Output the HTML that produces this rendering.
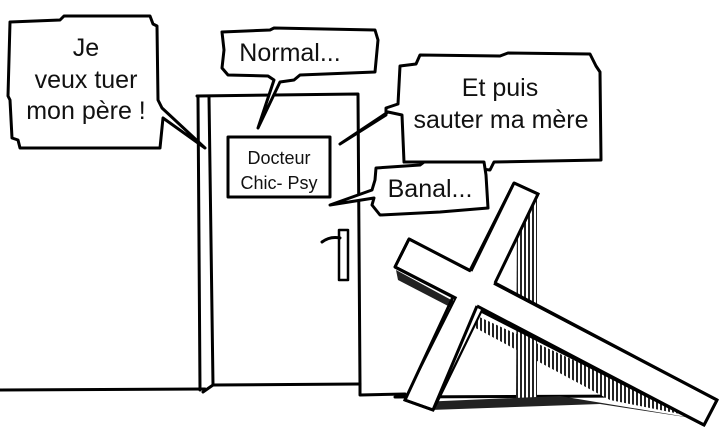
<!DOCTYPE html>
<html><head><meta charset="utf-8"><style>
html,body{margin:0;padding:0;background:#fff}
svg{display:block}
text{font-family:"Comic Sans MS","Liberation Sans",sans-serif;fill:#111}
</style></head><body>
<svg width="723" height="446" viewBox="0 0 723 446" xmlns="http://www.w3.org/2000/svg">
<defs>
<pattern id="h" width="4" height="6" patternUnits="userSpaceOnUse">
<rect width="4" height="6" fill="#fff"/><rect width="2" height="6" fill="#222"/>
</pattern>
</defs>
<g fill="none" stroke="#000" stroke-width="3" stroke-linejoin="round" stroke-linecap="round">
<path d="M0 390 L205 389"/>
<path d="M203 392 L213 385 L360 384"/>
<path d="M360 385 L360 395 L405 394"/>
<path d="M395 397 L640 396"/>
<path d="M198 97 L200 390"/>
<path d="M209 97 L213 385"/>
<path d="M197 96 L358 94 L360 386"/>
<rect x="228" y="137" width="102" height="60"/>
<rect x="339" y="230" width="9" height="50" stroke-width="2.5"/>
<path d="M322 242 Q330 236 340 238" stroke-width="3"/>
<path d="M10 22 L60 20 L64 16 L150 16 L153 24 L157 26 L158 100 L162 108 L205 148 L163 118 L160 148 L20 148 L18 140 L12 138 L10 100 L8 96 Z" fill="#fff"/>
<path d="M222 32 L270 30 L274 28 L375 30 L378 40 L375 72 L300 75 L294 80 L280 82 L258 128 L274 80 L268 76 L228 75 L222 68 L224 50 Z" fill="#fff"/>
<path d="M400 66 L416 64 L420 55 L500 56 L508 53 L590 54 L596 66 L600 72 L601 160 L494 162 L490 170 L472 168 L470 162 L404 162 L402 115 L388 112 L340 144 L386 115 L386 108 L398 104 Z" fill="#fff"/>
<path d="M376 168 L420 165 L424 162 L484 162 L486 175 L488 208 L440 212 L380 215 L372 205 L374 198 L330 205 L372 190 L375 180 Z" fill="#fff"/>
</g>
<g>
<polygon points="517,210 537,200 537,398 516,398" fill="url(#h)"/>
<polygon points="475,315 700,418 610,400 470,325" fill="url(#h)"/>
<polygon points="420,402 560,396 705,420 600,404 430,410" fill="#222"/>
<polygon points="396,270 455,302 452,308 398,280" fill="#222"/>
</g>
<g stroke="#000" stroke-width="3" fill="#fff" stroke-linejoin="round">
<polygon points="514,183 538,194 433,410 405,400"/>
<polygon points="409,239 717,400 704,425 395,267"/>
</g>
<g fill="#fff">
<polygon points="514,184 537,195 433,408 406,399"/>
<polygon points="410,241 715,401 704,423 397,266"/>
</g>
<g fill="none" stroke="#000" stroke-width="3">
<path d="M409 239 L471 271"/><path d="M395 267 L453 297"/>
<path d="M495 283 L717 400 L704 425 L477 306"/>
<path d="M514 183 L538 194 L495 283"/><path d="M409 239 L395 267"/>
<path d="M471 271 L514 183"/>
<path d="M477 306 L433 410 L405 400 L453 297"/>
</g>
<g font-size="25" text-anchor="middle">
<text x="86" y="56">Je</text>
<text x="86" y="88">veux tuer</text>
<text x="86" y="119">mon père !</text>
<text x="290" y="61">Normal...</text>
<text x="500" y="96">Et puis</text>
<text x="501" y="128">sauter ma mère</text>
<text x="430" y="197">Banal...</text>
</g>
<g font-size="18" text-anchor="middle">
<text x="279" y="164">Docteur</text>
<text x="279" y="189">Chic- Psy</text>
</g>
</svg>
</body></html>
